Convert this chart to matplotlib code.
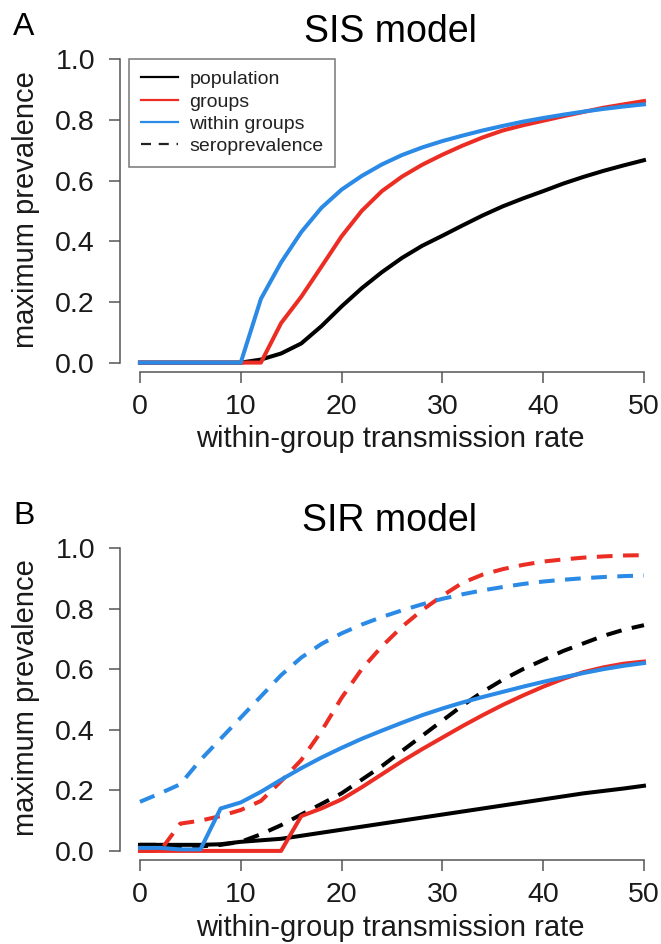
import matplotlib
matplotlib.use('Agg')
import matplotlib.pyplot as plt
from matplotlib.lines import Line2D

plt.rcParams['font.family'] = ['Liberation Sans', 'DejaVu Sans']

RED = '#EC2D24'
BLUE = '#2A8AE6'
AXIS = '#555555'

x = list(range(0, 52, 2))

# SIS model
sis_population = [0, 0, 0, 0, 0, 0, 0.01, 0.03, 0.063, 0.12, 0.185, 0.245, 0.298, 0.345, 0.385,
                  0.418, 0.452, 0.485, 0.515, 0.541, 0.565, 0.59, 0.612, 0.632, 0.65, 0.667]
sis_groups = [0, 0, 0, 0, 0, 0, 0, 0.13, 0.217, 0.316, 0.416, 0.50, 0.565, 0.613, 0.652,
              0.685, 0.715, 0.742, 0.765, 0.782, 0.797, 0.812, 0.826, 0.84, 0.851, 0.862]
sis_within = [0, 0, 0, 0, 0, 0, 0.21, 0.33, 0.43, 0.51, 0.57, 0.615, 0.653, 0.684, 0.709,
              0.73, 0.748, 0.765, 0.78, 0.794, 0.806, 0.817, 0.827, 0.836, 0.844, 0.851]

# SIR model
sir_population = [0.02, 0.02, 0.02, 0.02, 0.022, 0.03, 0.035, 0.04, 0.05, 0.06, 0.07, 0.08, 0.09,
                  0.10, 0.11, 0.12, 0.13, 0.14, 0.15, 0.16, 0.17, 0.18, 0.19, 0.198, 0.206, 0.215]
sir_groups = [0, 0, 0, 0, 0, 0, 0, 0, 0.115, 0.14, 0.17, 0.21, 0.253, 0.296, 0.336, 0.374, 0.412,
              0.448, 0.482, 0.513, 0.542, 0.568, 0.59, 0.606, 0.618, 0.625]
sir_within = [0.01, 0.01, 0.005, 0.005, 0.14, 0.16, 0.195, 0.235, 0.273, 0.308, 0.34, 0.37, 0.397,
              0.423, 0.448, 0.47, 0.49, 0.508, 0.525, 0.542, 0.558, 0.573, 0.587, 0.6, 0.611, 0.62]
sero_population = [0.02, 0.02, 0.015, 0.015, 0.02, 0.03, 0.055, 0.085, 0.12, 0.155, 0.19, 0.235,
                   0.28, 0.33, 0.38, 0.43, 0.48, 0.525, 0.565, 0.60, 0.63, 0.66, 0.685, 0.71, 0.73, 0.745]
sero_groups = [0, 0, 0.09, 0.10, 0.115, 0.135, 0.165, 0.23, 0.30, 0.395, 0.505, 0.60, 0.675, 0.74,
               0.795, 0.842, 0.885, 0.912, 0.93, 0.944, 0.955, 0.962, 0.968, 0.972, 0.975, 0.976]
sero_within = [0.162, 0.19, 0.22, 0.30, 0.37, 0.44, 0.51, 0.58, 0.638, 0.683, 0.718, 0.747, 0.772,
               0.794, 0.814, 0.832, 0.847, 0.86, 0.871, 0.881, 0.889, 0.895, 0.9, 0.904, 0.907, 0.909]

yticks = [0.0, 0.2, 0.4, 0.6, 0.8, 1.0]
xticks = [0, 10, 20, 30, 40, 50]

W, H = 661, 944
fig = plt.figure(figsize=(W / 100, H / 100), dpi=100)


def style_axes(ax):
    ax.set_xlim(-1.98, 51.69)
    ax.set_ylim(-0.03, 1.04)
    for s in ['top', 'right']:
        ax.spines[s].set_visible(False)
    for s in ['left', 'bottom']:
        ax.spines[s].set_color(AXIS)
        ax.spines[s].set_linewidth(1.1)
    ax.spines['left'].set_bounds(0, 1)
    ax.spines['bottom'].set_bounds(0, 50)
    ax.set_xticks(xticks)
    ax.set_yticks(yticks)
    ax.set_yticklabels([f'{v:.1f}' for v in yticks])
    ax.tick_params(axis='both', direction='out', length=8, width=1.1, color=AXIS,
                   labelsize=20.5, labelcolor='#1a1a1a')
    ax.tick_params(axis='y', pad=10)
    ax.tick_params(axis='x', pad=8)
    ax.set_xlabel('within-group transmission rate', fontsize=21, color='#1a1a1a', labelpad=4)
    ax.set_ylabel('maximum prevalence', fontsize=21, color='#1a1a1a')
    ax.yaxis.set_label_coords(-0.148, 0.5)
    ax.patch.set_visible(False)


lw = 2.9
dash = (3.9, 2.6)

# Panel A
axA = fig.add_axes([120 / W, 1 - 371.7 / H, 1 - 120 / W, 324.7 / H])
style_axes(axA)
axA.plot(x, sis_population, color='black', lw=lw, solid_joinstyle='round')
axA.plot(x, sis_groups, color=RED, lw=lw, solid_joinstyle='round')
axA.plot(x, sis_within, color=BLUE, lw=lw, solid_joinstyle='round')

handles = [Line2D([], [], color='black', lw=1.6),
           Line2D([], [], color=RED, lw=1.6),
           Line2D([], [], color=BLUE, lw=1.6),
           Line2D([], [], color='#222222', lw=1.6, dashes=(4.5, 3.5))]
labels = ['population', 'groups', 'within groups', 'seroprevalence']
leg = axA.legend(handles, labels, loc='upper left', bbox_to_anchor=(129 / W, 1 - 59 / H),
                 bbox_transform=fig.transFigure, fontsize=14, frameon=True, fancybox=False,
                 borderaxespad=0, borderpad=0.6, handlelength=1.9, handletextpad=0.6,
                 labelspacing=0.24)
leg.get_frame().set_edgecolor(AXIS)
leg.get_frame().set_linewidth(1.1)
for t in leg.get_texts():
    t.set_color('#222222')

fig.text(390 / W, 1 - 42 / H, 'SIS model', fontsize=27, ha='center', va='baseline')
fig.text(13 / W, 1 - 35 / H, 'A', fontsize=23, ha='left', va='baseline')

# Panel B
axB = fig.add_axes([120 / W, 1 - 860 / H, 1 - 120 / W, 324.2 / H])
style_axes(axB)
axB.plot(x, sir_population, color='black', lw=lw)
axB.plot(x, sero_population, color='black', lw=lw, dashes=dash)
axB.plot(x, sir_groups, color=RED, lw=lw)
axB.plot(x, sero_groups, color=RED, lw=lw, dashes=dash)
axB.plot(x, sir_within, color=BLUE, lw=lw)
axB.plot(x, sero_within, color=BLUE, lw=lw, dashes=dash)

fig.text(390 / W, 1 - 531 / H, 'SIR model', fontsize=27, ha='center', va='baseline')
fig.text(13 / W, 1 - 524 / H, 'B', fontsize=23, ha='left', va='baseline')

fig.savefig('out.png', dpi=100)
